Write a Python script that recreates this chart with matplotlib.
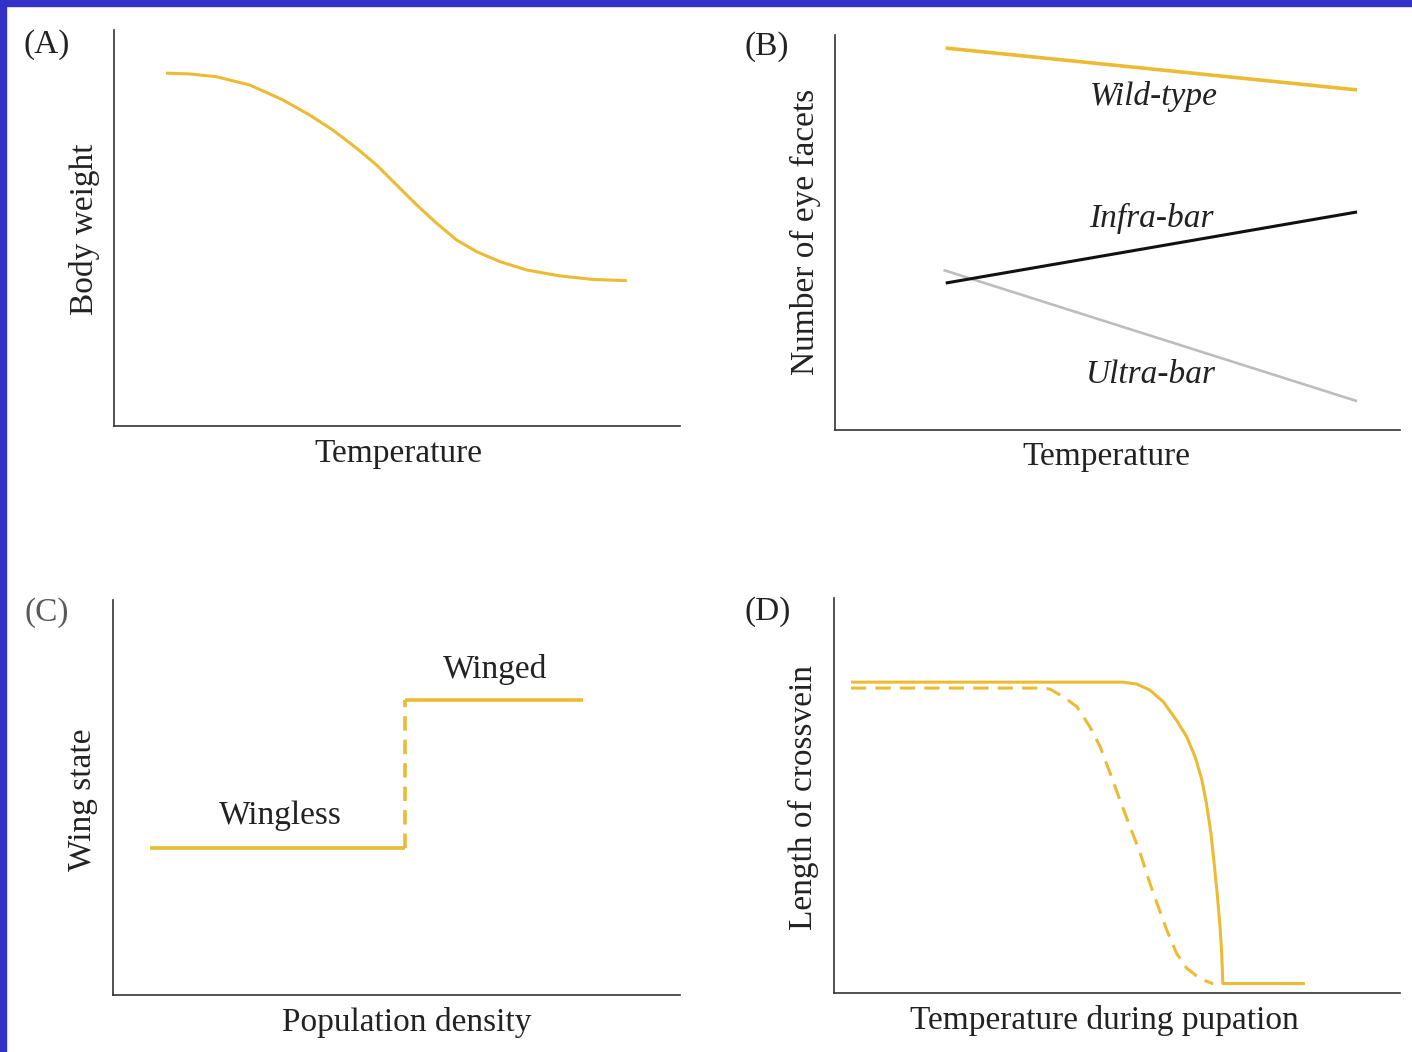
import matplotlib
matplotlib.use("Agg")
import matplotlib.pyplot as plt
from matplotlib.patches import Rectangle

plt.rcParams['font.family'] = 'Liberation Serif'

W, H = 1412, 1052

# (A) body weight vs temperature
a_temp = [9.2, 13.4, 18.1, 24.0, 29.9, 34.6, 38.7, 42.9, 46.4, 49.9, 53.5, 57.0,
          60.5, 64.1, 68.2, 72.9, 78.8, 84.7, 90.6]
a_weight = [89.1, 88.9, 88.2, 86.1, 82.3, 78.5, 74.7, 70.1, 65.9, 60.9, 55.8, 51.2,
            47.0, 44.0, 41.5, 39.4, 37.9, 37.0, 36.7]

# (B) eye facets vs temperature, straight lines between two readings
b_temp = [19.6, 92.4]
b_wild = [96.7, 86.1]
b_infra = [37.2, 55.2]
b_ultra = [40.5, 7.3]
b_ultra_temp = [19.2, 92.4]

# (C) wing state vs population density
c_low_density = [6.5, 51.5]
c_high_density = [51.5, 82.9]
c_wingless = 37.2
c_winged = 74.7

# (D) crossvein length vs pupation temperature
d_temp_solid = [3.0, 51.1, 53.5, 55.8, 58.2, 60.5, 62.3, 63.8, 65.0, 65.8, 66.6, 67.1,
                67.7, 68.2, 68.5, 68.7, 83.2]
d_len_solid = [78.7, 78.7, 78.2, 76.7, 73.7, 69.1, 64.9, 59.8, 53.9, 48.0, 40.4, 33.7,
               25.2, 16.8, 10.1, 2.4, 2.4]
d_temp_dash = [3.0, 37.0, 38.2, 40.5, 42.9, 45.2, 47.0, 48.8, 50.5, 52.3, 54.1, 55.8,
               57.3, 58.8, 60.5, 62.3, 64.6, 67.0]
d_len_dash = [77.2, 77.2, 76.9, 75.0, 72.5, 67.4, 62.4, 55.6, 48.9, 42.1, 35.4, 27.8,
              21.8, 15.9, 10.1, 6.3, 3.7, 2.3]

GOLD = '#ECBB33'
AX_COL = '#333333'
TXT = '#222222'
FS = 24

fig = plt.figure(figsize=(W / 100, H / 100), dpi=100)
fig.patch.set_facecolor('white')

# blue frame strips along top and left edge
fig.patches.append(Rectangle((0, 1 - 6 / H), 1, 6 / H, transform=fig.transFigure,
                             color='#3232C8', zorder=10))
fig.patches.append(Rectangle((0, 0), 6 / W, 1, transform=fig.transFigure,
                             color='#3232C8', zorder=10))


def make_ax(left, right, top, bottom):
    ax = fig.add_axes([left / W, 1 - bottom / H, (right - left) / W, (bottom - top) / H])
    ax.set_xlim(0, 100)
    ax.set_ylim(0, 100)
    ax.set_xticks([])
    ax.set_yticks([])
    ax.patch.set_alpha(0)
    for s in ['top', 'right']:
        ax.spines[s].set_visible(False)
    for s in ['left', 'bottom']:
        ax.spines[s].set_color(AX_COL)
        ax.spines[s].set_linewidth(1.2)
    return ax


def ftext(px, py, s, **kw):
    fig.text(px / W, 1 - py / H, s, ha='center', va='center', fontsize=FS, color=TXT, **kw)


axA = make_ax(114, 680, 30, 426)
axB = make_ax(835, 1400, 35, 430)
axC = make_ax(113, 680, 600, 995)
axD = make_ax(834, 1400, 598, 993)

# (A)
axA.plot(a_temp, a_weight, color=GOLD, lw=2.2, solid_capstyle='butt', solid_joinstyle='round')

# (B)
axB.plot(b_temp, b_wild, color=GOLD, lw=2.6, solid_capstyle='butt')
axB.plot(b_ultra_temp, b_ultra, color='#BDBDBD', lw=1.9, solid_capstyle='butt')
axB.plot(b_temp, b_infra, color='#111111', lw=2.2, solid_capstyle='butt')
axB.text(56.5, 84.5, 'Wild-type', style='italic', fontsize=FS, ha='center', va='center', color=TXT)
axB.text(56.0, 53.5, 'Infra-bar', style='italic', fontsize=FS, ha='center', va='center', color=TXT)
axB.text(56.0, 14.0, 'Ultra-bar', style='italic', fontsize=FS, ha='center', va='center', color=TXT)

# (C)
axC.plot(c_low_density, [c_wingless, c_wingless], color=GOLD, lw=2.6, solid_capstyle='butt')
axC.plot(c_high_density, [c_winged, c_winged], color=GOLD, lw=2.6, solid_capstyle='butt')
axC.plot([c_low_density[1], c_low_density[1]], [c_wingless, c_winged], color=GOLD, lw=2.6,
         linestyle=(0, (4, 2.5)))
axC.text(29.5, 45.3, 'Wingless', fontsize=FS, ha='center', va='center', color=TXT)
axC.text(67.4, 82.5, 'Winged', fontsize=FS, ha='center', va='center', color=TXT)

# (D)
axD.plot(d_temp_solid, d_len_solid, color=GOLD, lw=2.2, solid_capstyle='butt', solid_joinstyle='round')
axD.plot(d_temp_dash, d_len_dash, color=GOLD, lw=2.2, linestyle=(0, (5, 3)))

# panel letters and axis titles
ftext(47, 45, '(A)')
ftext(767, 47, '(B)')
ftext(47, 613, '(C)', alpha=0.75)
ftext(768, 612, '(D)')

ftext(398, 454, 'Temperature')
ftext(1106, 457, 'Temperature')
ftext(407, 1022, 'Population density')
ftext(1104, 1021, 'Temperature during pupation')

ftext(85, 229, 'Body weight', rotation=90)
ftext(805, 232, 'Number of eye facets', rotation=90)
ftext(83, 800, 'Wing state', rotation=90)
ftext(803, 797, 'Length of crossvein', rotation=90)

fig.savefig('out.png', dpi=100, facecolor='white')
